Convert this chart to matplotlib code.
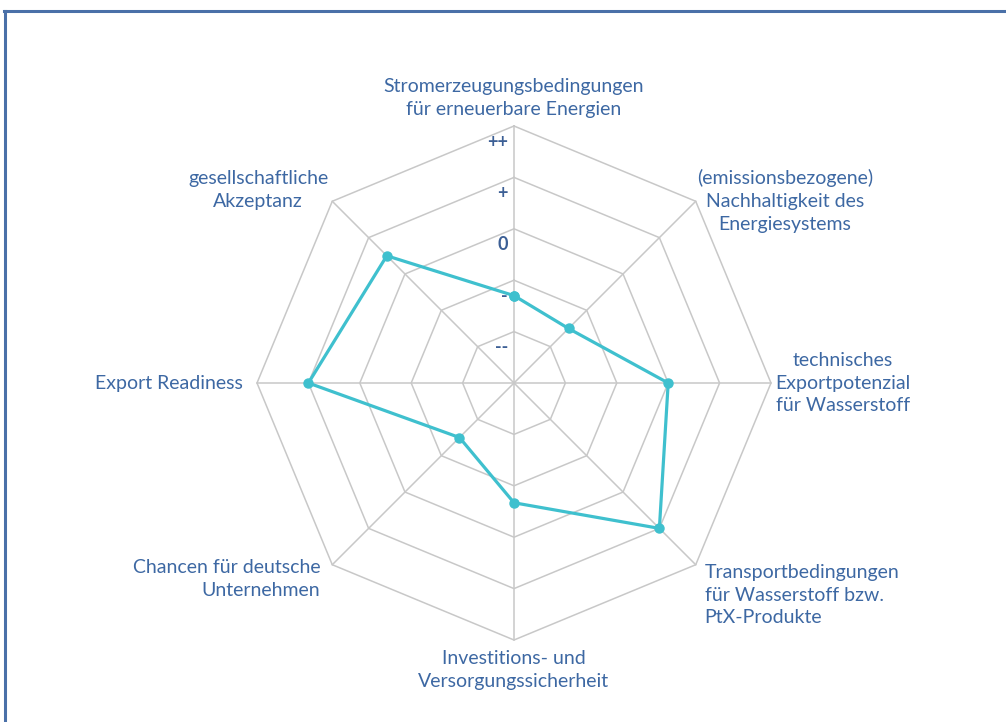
import numpy as np
import matplotlib.pyplot as plt
from matplotlib.lines import Line2D

# Kategorien im Uhrzeigersinn, beginnend oben
kategorien = [
    'Stromerzeugungsbedingungen\nfür erneuerbare Energien',
    '(emissionsbezogene)\nNachhaltigkeit des\nEnergiesystems',
    'technisches\nExportpotenzial\nfür Wasserstoff',
    'Transportbedingungen\nfür Wasserstoff bzw.\nPtX-Produkte',
    'Investitions- und\nVersorgungssicherheit',
    'Chancen für deutsche\nUnternehmen',
    'Export Readiness',
    'gesellschaftliche\nAkzeptanz',
]
werte = [1.7, 1.5, 3.0, 4.0, 2.33, 1.5, 4.0, 3.5]
stufen = ['--', '-', '0', '+', '++']
stufen_werte = [1, 2, 3, 4, 5]

textfarbe = '#3D68A3'
gitterfarbe = '#C8C8C8'
linienfarbe = '#3FC0CE'

plt.rcParams['font.family'] = ['Lato', 'DejaVu Sans']

fig = plt.figure(figsize=(10.06, 7.22), dpi=100)
ax = fig.add_axes([257 / 1006, 82 / 722, 514 / 1006, 514 / 722], projection='polar')
ax.set_theta_zero_location('N')
ax.set_theta_direction(-1)
ax.set_ylim(0, 5)
ax.set_axis_off()

n = len(kategorien)
winkel = np.arange(n) * 2 * np.pi / n
winkel_zu = np.append(winkel, winkel[0])

# Netz
for s in stufen_werte:
    ax.plot(winkel_zu, [s] * (n + 1), color=gitterfarbe, lw=1.1, clip_on=False, zorder=1)
for w in winkel:
    ax.plot([w, w], [0, 5], color=gitterfarbe, lw=1.1, clip_on=False, zorder=1)

# Datenreihe
ax.plot(winkel_zu, np.append(werte, werte[0]), color=linienfarbe, lw=2.3,
        marker='o', ms=6.5, clip_on=False, zorder=3)

# Achsenbeschriftung (Stufen)
for s, txt in zip(stufen_werte, stufen):
    ax.annotate(txt, xy=(0, s), xytext=(-6, -16), textcoords='offset pixels',
                ha='right', va='center', fontsize=13, fontweight='bold',
                color='#3C5F95', zorder=2)

# Kategorienbeschriftung: (ha, va, multialignment, dx, dy) in Pixeln
platz = [
    ('center', 'bottom', 'center', 0, 8),
    ('left', 'center', 'center', 1, 0),
    ('left', 'center', 'center', 4, 0),
    ('left', 'top', 'left', 9, 1),
    ('center', 'top', 'center', 0, -10),
    ('right', 'top', 'right', -12, 6),
    ('right', 'center', 'right', -14, 0),
    ('right', 'bottom', 'center', -4, -9),
]
for w, txt, (ha, va, ma, dx, dy) in zip(winkel, kategorien, platz):
    ax.annotate(txt, xy=(w, 5), xytext=(dx, dy), textcoords='offset pixels',
                ha=ha, va=va, multialignment=ma, fontsize=14, color=textfarbe,
                linespacing=1.42, annotation_clip=False)

# Rahmen oben und links
fig.add_artist(Line2D([4 / 1006, 1.0], [1 - 11 / 722, 1 - 11 / 722], color='#4A70A8', lw=2.2))
fig.add_artist(Line2D([5 / 1006, 5 / 1006], [0, 1 - 11 / 722], color='#4A70A8', lw=2.2))

fig.savefig('out.png', dpi=100)
